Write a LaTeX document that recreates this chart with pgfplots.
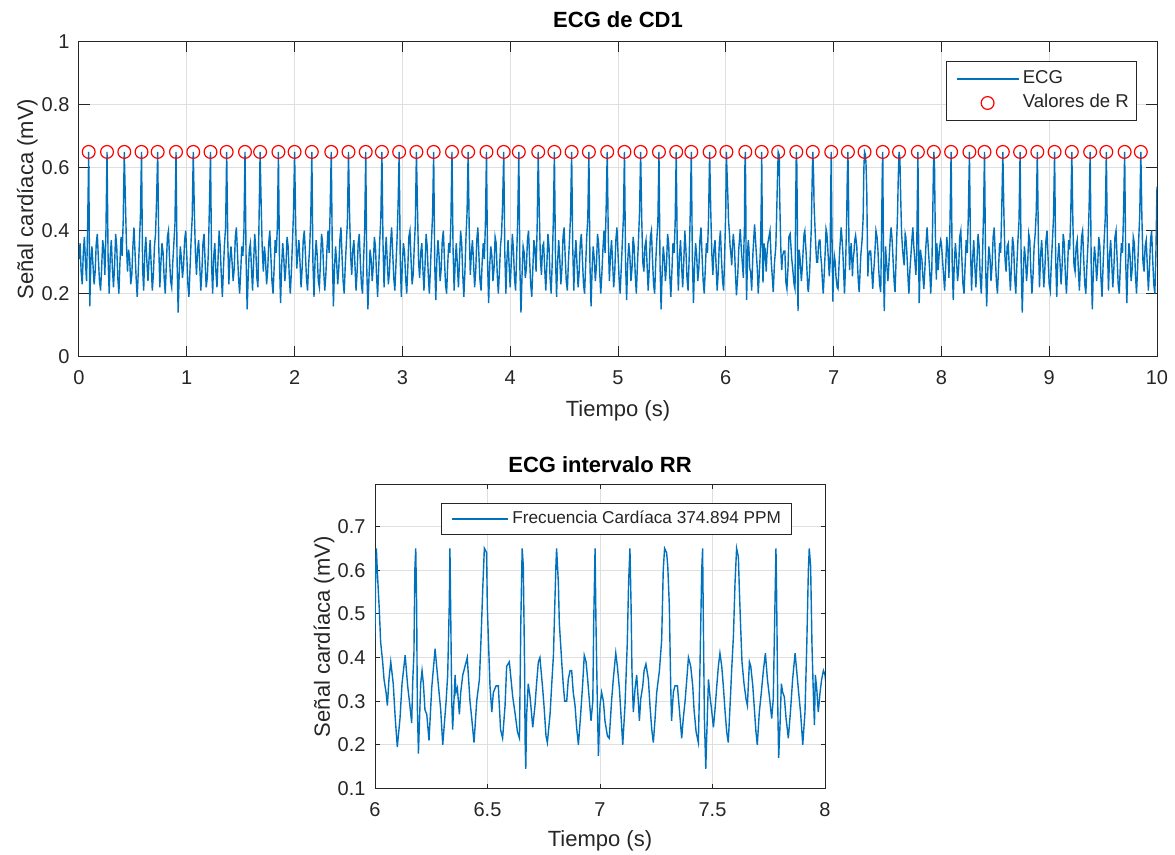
\documentclass[border=0pt]{standalone}
\usepackage{fontspec}
\setmainfont{Liberation Sans}
\usepackage{pgfplots}
\pgfplotsset{compat=1.18}
\usepackage{pgfplotstable}
\definecolor{ecgblue}{RGB}{0,114,189}
\definecolor{axgray}{RGB}{38,38,38}
\definecolor{gridgray}{RGB}{223,223,223}

\pgfplotstableread[row sep=\\]{
t v\\
0.00 0.31\\ 0.01 0.36\\ 0.02 0.27\\ 0.03 0.23\\ 0.04 0.33\\ 0.05 0.38\\ 0.06 0.30\\ 0.07 0.24\\ 0.08 0.41\\ 0.09 0.65\\
0.10 0.16\\ 0.11 0.30\\ 0.12 0.35\\ 0.13 0.29\\ 0.14 0.23\\ 0.15 0.27\\ 0.16 0.36\\ 0.17 0.39\\ 0.18 0.31\\ 0.19 0.24\\
0.20 0.21\\ 0.21 0.28\\ 0.22 0.37\\ 0.23 0.34\\ 0.24 0.26\\ 0.25 0.40\\ 0.26 0.65\\ 0.27 0.31\\ 0.28 0.20\\ 0.29 0.32\\
0.30 0.37\\ 0.31 0.28\\ 0.32 0.22\\ 0.33 0.29\\ 0.34 0.39\\ 0.35 0.35\\ 0.36 0.25\\ 0.37 0.20\\ 0.38 0.30\\ 0.39 0.38\\
0.40 0.32\\ 0.41 0.43\\ 0.42 0.65\\ 0.43 0.50\\ 0.44 0.36\\ 0.45 0.27\\ 0.46 0.34\\ 0.47 0.31\\ 0.48 0.23\\ 0.49 0.26\\
0.50 0.35\\ 0.51 0.41\\ 0.52 0.33\\ 0.53 0.25\\ 0.54 0.19\\ 0.55 0.27\\ 0.56 0.36\\ 0.57 0.45\\ 0.58 0.65\\ 0.59 0.28\\
0.60 0.21\\ 0.61 0.33\\ 0.62 0.38\\ 0.63 0.30\\ 0.64 0.24\\ 0.65 0.31\\ 0.66 0.37\\ 0.67 0.29\\ 0.68 0.21\\ 0.69 0.26\\
0.70 0.35\\ 0.71 0.39\\ 0.72 0.50\\ 0.73 0.65\\ 0.74 0.35\\ 0.75 0.22\\ 0.76 0.30\\ 0.77 0.36\\ 0.78 0.33\\ 0.79 0.25\\
0.80 0.20\\ 0.81 0.29\\ 0.82 0.38\\ 0.83 0.40\\ 0.84 0.31\\ 0.85 0.24\\ 0.86 0.22\\ 0.87 0.30\\ 0.88 0.36\\ 0.89 0.42\\
0.90 0.65\\ 0.91 0.30\\ 0.92 0.14\\ 0.93 0.27\\ 0.94 0.35\\ 0.95 0.31\\ 0.96 0.25\\ 0.97 0.29\\ 0.98 0.37\\ 0.99 0.40\\
1.00 0.32\\ 1.01 0.23\\ 1.02 0.19\\ 1.03 0.28\\ 1.04 0.37\\ 1.05 0.44\\ 1.06 0.65\\ 1.07 0.46\\ 1.08 0.33\\ 1.09 0.26\\
1.10 0.34\\ 1.11 0.37\\ 1.12 0.29\\ 1.13 0.21\\ 1.14 0.27\\ 1.15 0.36\\ 1.16 0.39\\ 1.17 0.30\\ 1.18 0.22\\ 1.19 0.25\\
1.20 0.33\\ 1.21 0.48\\ 1.22 0.65\\ 1.23 0.29\\ 1.24 0.20\\ 1.25 0.32\\ 1.26 0.36\\ 1.27 0.27\\ 1.28 0.22\\ 1.29 0.31\\
1.30 0.40\\ 1.31 0.35\\ 1.32 0.26\\ 1.33 0.19\\ 1.34 0.28\\ 1.35 0.36\\ 1.36 0.41\\ 1.37 0.65\\ 1.38 0.37\\ 1.39 0.23\\
1.40 0.31\\ 1.41 0.35\\ 1.42 0.30\\ 1.43 0.24\\ 1.44 0.28\\ 1.45 0.38\\ 1.46 0.41\\ 1.47 0.33\\ 1.48 0.25\\ 1.49 0.20\\
1.50 0.27\\ 1.51 0.35\\ 1.52 0.32\\ 1.53 0.40\\ 1.54 0.65\\ 1.55 0.31\\ 1.56 0.15\\ 1.57 0.26\\ 1.58 0.34\\ 1.59 0.36\\
1.60 0.28\\ 1.61 0.21\\ 1.62 0.30\\ 1.63 0.39\\ 1.64 0.34\\ 1.65 0.25\\ 1.66 0.22\\ 1.67 0.43\\ 1.68 0.65\\ 1.69 0.48\\
1.70 0.34\\ 1.71 0.27\\ 1.72 0.35\\ 1.73 0.31\\ 1.74 0.23\\ 1.75 0.27\\ 1.76 0.36\\ 1.77 0.40\\ 1.78 0.32\\ 1.79 0.24\\
1.80 0.20\\ 1.81 0.28\\ 1.82 0.37\\ 1.83 0.33\\ 1.84 0.41\\ 1.85 0.65\\ 1.86 0.30\\ 1.87 0.17\\ 1.88 0.29\\ 1.89 0.36\\
1.90 0.31\\ 1.91 0.24\\ 1.92 0.29\\ 1.93 0.38\\ 1.94 0.35\\ 1.95 0.26\\ 1.96 0.20\\ 1.97 0.27\\ 1.98 0.36\\ 1.99 0.46\\
2.00 0.65\\ 2.01 0.42\\ 2.02 0.28\\ 2.03 0.33\\ 2.04 0.37\\ 2.05 0.30\\ 2.06 0.22\\ 2.07 0.28\\ 2.08 0.37\\ 2.09 0.40\\
2.10 0.33\\ 2.11 0.25\\ 2.12 0.21\\ 2.13 0.29\\ 2.14 0.35\\ 2.15 0.44\\ 2.16 0.65\\ 2.17 0.30\\ 2.18 0.19\\ 2.19 0.31\\
2.20 0.37\\ 2.21 0.32\\ 2.22 0.24\\ 2.23 0.22\\ 2.24 0.30\\ 2.25 0.39\\ 2.26 0.36\\ 2.27 0.27\\ 2.28 0.21\\ 2.29 0.26\\
2.30 0.34\\ 2.31 0.40\\ 2.32 0.33\\ 2.33 0.47\\ 2.34 0.65\\ 2.35 0.33\\ 2.36 0.16\\ 2.37 0.28\\ 2.38 0.35\\ 2.39 0.30\\
2.40 0.23\\ 2.41 0.28\\ 2.42 0.37\\ 2.43 0.41\\ 2.44 0.32\\ 2.45 0.24\\ 2.46 0.20\\ 2.47 0.29\\ 2.48 0.36\\ 2.49 0.43\\
2.50 0.65\\ 2.51 0.45\\ 2.52 0.32\\ 2.53 0.26\\ 2.54 0.34\\ 2.55 0.37\\ 2.56 0.29\\ 2.57 0.21\\ 2.58 0.27\\ 2.59 0.36\\
2.60 0.39\\ 2.61 0.30\\ 2.62 0.23\\ 2.63 0.20\\ 2.64 0.31\\ 2.65 0.40\\ 2.66 0.65\\ 2.67 0.27\\ 2.68 0.15\\ 2.69 0.25\\
2.70 0.34\\ 2.71 0.31\\ 2.72 0.24\\ 2.73 0.29\\ 2.74 0.38\\ 2.75 0.35\\ 2.76 0.26\\ 2.77 0.19\\ 2.78 0.28\\ 2.79 0.37\\
2.80 0.44\\ 2.81 0.65\\ 2.82 0.36\\ 2.83 0.22\\ 2.84 0.32\\ 2.85 0.38\\ 2.86 0.30\\ 2.87 0.23\\ 2.88 0.27\\ 2.89 0.36\\
2.90 0.41\\ 2.91 0.33\\ 2.92 0.25\\ 2.93 0.21\\ 2.94 0.29\\ 2.95 0.37\\ 2.96 0.48\\ 2.97 0.65\\ 2.98 0.31\\ 2.99 0.19\\
3.00 0.30\\ 3.01 0.36\\ 3.02 0.33\\ 3.03 0.25\\ 3.04 0.20\\ 3.05 0.28\\ 3.06 0.38\\ 3.07 0.40\\ 3.08 0.31\\ 3.09 0.23\\
3.10 0.26\\ 3.11 0.35\\ 3.12 0.42\\ 3.13 0.65\\ 3.14 0.47\\ 3.15 0.30\\ 3.16 0.25\\ 3.17 0.33\\ 3.18 0.36\\ 3.19 0.28\\
3.20 0.21\\ 3.21 0.29\\ 3.22 0.39\\ 3.23 0.35\\ 3.24 0.26\\ 3.25 0.20\\ 3.26 0.28\\ 3.27 0.37\\ 3.28 0.45\\ 3.29 0.65\\
3.30 0.29\\ 3.31 0.18\\ 3.32 0.31\\ 3.33 0.37\\ 3.34 0.32\\ 3.35 0.24\\ 3.36 0.28\\ 3.37 0.37\\ 3.38 0.40\\ 3.39 0.31\\
3.40 0.23\\ 3.41 0.20\\ 3.42 0.29\\ 3.43 0.36\\ 3.44 0.33\\ 3.45 0.43\\ 3.46 0.65\\ 3.47 0.34\\ 3.48 0.21\\ 3.49 0.30\\
3.50 0.36\\ 3.51 0.29\\ 3.52 0.22\\ 3.53 0.31\\ 3.54 0.40\\ 3.55 0.36\\ 3.56 0.26\\ 3.57 0.19\\ 3.58 0.27\\ 3.59 0.38\\
3.60 0.46\\ 3.61 0.65\\ 3.62 0.40\\ 3.63 0.26\\ 3.64 0.33\\ 3.65 0.37\\ 3.66 0.30\\ 3.67 0.22\\ 3.68 0.27\\ 3.69 0.37\\
3.70 0.41\\ 3.71 0.32\\ 3.72 0.24\\ 3.73 0.21\\ 3.74 0.30\\ 3.75 0.36\\ 3.76 0.31\\ 3.77 0.42\\ 3.78 0.65\\ 3.79 0.30\\
3.80 0.17\\ 3.81 0.29\\ 3.82 0.35\\ 3.83 0.32\\ 3.84 0.24\\ 3.85 0.28\\ 3.86 0.38\\ 3.87 0.36\\ 3.88 0.26\\ 3.89 0.20\\
3.90 0.27\\ 3.91 0.35\\ 3.92 0.39\\ 3.93 0.49\\ 3.94 0.65\\ 3.95 0.33\\ 3.96 0.20\\ 3.97 0.31\\ 3.98 0.37\\ 3.99 0.29\\
4.00 0.22\\ 4.01 0.30\\ 4.02 0.39\\ 4.03 0.34\\ 4.04 0.25\\ 4.05 0.21\\ 4.06 0.32\\ 4.07 0.44\\ 4.08 0.65\\ 4.09 0.28\\
4.10 0.14\\ 4.11 0.26\\ 4.12 0.35\\ 4.13 0.33\\ 4.14 0.25\\ 4.15 0.28\\ 4.16 0.37\\ 4.17 0.40\\ 4.18 0.31\\ 4.19 0.23\\
4.20 0.19\\ 4.21 0.28\\ 4.22 0.37\\ 4.23 0.34\\ 4.24 0.27\\ 4.25 0.41\\ 4.26 0.65\\ 4.27 0.46\\ 4.28 0.31\\ 4.29 0.26\\
4.30 0.35\\ 4.31 0.36\\ 4.32 0.28\\ 4.33 0.21\\ 4.34 0.29\\ 4.35 0.39\\ 4.36 0.35\\ 4.37 0.25\\ 4.38 0.20\\ 4.39 0.30\\
4.40 0.43\\ 4.41 0.65\\ 4.42 0.32\\ 4.43 0.19\\ 4.44 0.30\\ 4.45 0.37\\ 4.46 0.31\\ 4.47 0.23\\ 4.48 0.28\\ 4.49 0.38\\
4.50 0.41\\ 4.51 0.32\\ 4.52 0.24\\ 4.53 0.21\\ 4.54 0.30\\ 4.55 0.37\\ 4.56 0.45\\ 4.57 0.65\\ 4.58 0.35\\ 4.59 0.21\\
4.60 0.32\\ 4.61 0.37\\ 4.62 0.29\\ 4.63 0.22\\ 4.64 0.27\\ 4.65 0.36\\ 4.66 0.39\\ 4.67 0.31\\ 4.68 0.23\\ 4.69 0.20\\
4.70 0.29\\ 4.71 0.38\\ 4.72 0.44\\ 4.73 0.65\\ 4.74 0.29\\ 4.75 0.16\\ 4.76 0.28\\ 4.77 0.35\\ 4.78 0.31\\ 4.79 0.24\\
4.80 0.29\\ 4.81 0.39\\ 4.82 0.36\\ 4.83 0.27\\ 4.84 0.20\\ 4.85 0.26\\ 4.86 0.34\\ 4.87 0.40\\ 4.88 0.33\\ 4.89 0.47\\
4.90 0.65\\ 4.91 0.38\\ 4.92 0.24\\ 4.93 0.32\\ 4.94 0.37\\ 4.95 0.30\\ 4.96 0.22\\ 4.97 0.27\\ 4.98 0.37\\ 4.99 0.41\\
5.00 0.33\\ 5.01 0.25\\ 5.02 0.20\\ 5.03 0.28\\ 5.04 0.36\\ 5.05 0.44\\ 5.06 0.65\\ 5.07 0.30\\ 5.08 0.18\\ 5.09 0.30\\
5.10 0.36\\ 5.11 0.32\\ 5.12 0.24\\ 5.13 0.28\\ 5.14 0.38\\ 5.15 0.35\\ 5.16 0.26\\ 5.17 0.20\\ 5.18 0.29\\ 5.19 0.37\\
5.20 0.46\\ 5.21 0.65\\ 5.22 0.44\\ 5.23 0.30\\ 5.24 0.27\\ 5.25 0.35\\ 5.26 0.37\\ 5.27 0.29\\ 5.28 0.21\\ 5.29 0.28\\
5.30 0.38\\ 5.31 0.40\\ 5.32 0.31\\ 5.33 0.23\\ 5.34 0.20\\ 5.35 0.30\\ 5.36 0.37\\ 5.37 0.43\\ 5.38 0.65\\ 5.39 0.29\\
5.40 0.15\\ 5.41 0.27\\ 5.42 0.35\\ 5.43 0.31\\ 5.44 0.24\\ 5.45 0.29\\ 5.46 0.39\\ 5.47 0.36\\ 5.48 0.26\\ 5.49 0.19\\
5.50 0.27\\ 5.51 0.36\\ 5.52 0.33\\ 5.53 0.42\\ 5.54 0.65\\ 5.55 0.33\\ 5.56 0.21\\ 5.57 0.32\\ 5.58 0.37\\ 5.59 0.29\\
5.60 0.22\\ 5.61 0.30\\ 5.62 0.40\\ 5.63 0.34\\ 5.64 0.25\\ 5.65 0.21\\ 5.66 0.31\\ 5.67 0.45\\ 5.68 0.65\\ 5.69 0.31\\
5.70 0.17\\ 5.71 0.29\\ 5.72 0.36\\ 5.73 0.32\\ 5.74 0.24\\ 5.75 0.28\\ 5.76 0.37\\ 5.77 0.41\\ 5.78 0.32\\ 5.79 0.24\\
5.80 0.20\\ 5.81 0.28\\ 5.82 0.36\\ 5.83 0.33\\ 5.84 0.44\\ 5.85 0.65\\ 5.86 0.47\\ 5.87 0.33\\ 5.88 0.26\\ 5.89 0.34\\
5.90 0.37\\ 5.91 0.29\\ 5.92 0.21\\ 5.93 0.27\\ 5.94 0.36\\ 5.95 0.40\\ 5.96 0.31\\ 5.97 0.24\\ 5.98 0.21\\ 5.99 0.33\\
6.000 0.47\\ 6.003 0.60\\ 6.006 0.65\\ 6.010 0.60\\ 6.019 0.51\\ 6.025 0.435\\ 6.034 0.39\\ 6.040 0.35\\ 6.049 0.32\\ 6.055 0.29\\
6.062 0.35\\ 6.070 0.39\\ 6.081 0.34\\ 6.090 0.26\\ 6.099 0.195\\ 6.111 0.26\\ 6.120 0.34\\ 6.134 0.405\\ 6.145 0.335\\ 6.155 0.29\\
6.163 0.25\\ 6.168 0.35\\ 6.173 0.41\\ 6.177 0.60\\ 6.181 0.65\\ 6.185 0.52\\ 6.188 0.29\\ 6.193 0.18\\ 6.203 0.34\\ 6.209 0.37\\
6.215 0.34\\ 6.222 0.28\\ 6.230 0.27\\ 6.240 0.21\\ 6.252 0.33\\ 6.267 0.42\\ 6.281 0.34\\ 6.292 0.28\\ 6.301 0.20\\ 6.316 0.30\\
6.323 0.36\\ 6.330 0.52\\ 6.333 0.65\\ 6.336 0.52\\ 6.341 0.30\\ 6.345 0.235\\ 6.356 0.36\\ 6.360 0.32\\ 6.366 0.33\\ 6.375 0.27\\
6.381 0.32\\ 6.390 0.36\\ 6.400 0.38\\ 6.410 0.40\\ 6.422 0.30\\ 6.430 0.26\\ 6.440 0.205\\ 6.452 0.30\\ 6.464 0.35\\ 6.471 0.44\\
6.479 0.56\\ 6.486 0.65\\ 6.496 0.64\\ 6.499 0.52\\ 6.504 0.44\\ 6.511 0.335\\ 6.519 0.275\\ 6.526 0.32\\ 6.538 0.335\\ 6.548 0.335\\
6.558 0.235\\ 6.567 0.215\\ 6.578 0.29\\ 6.585 0.38\\ 6.597 0.39\\ 6.612 0.31\\ 6.623 0.27\\ 6.633 0.23\\ 6.642 0.215\\ 6.648 0.48\\
6.654 0.65\\ 6.659 0.61\\ 6.662 0.49\\ 6.665 0.37\\ 6.667 0.21\\ 6.670 0.145\\ 6.674 0.27\\ 6.681 0.34\\ 6.689 0.31\\ 6.696 0.27\\
6.701 0.24\\ 6.711 0.29\\ 6.718 0.34\\ 6.726 0.39\\ 6.733 0.40\\ 6.738 0.37\\ 6.745 0.33\\ 6.751 0.29\\ 6.760 0.22\\ 6.766 0.205\\
6.778 0.27\\ 6.785 0.335\\ 6.793 0.405\\ 6.799 0.52\\ 6.804 0.61\\ 6.807 0.65\\ 6.815 0.57\\ 6.819 0.48\\ 6.825 0.43\\ 6.831 0.38\\
6.837 0.335\\ 6.843 0.30\\ 6.852 0.30\\ 6.859 0.35\\ 6.867 0.37\\ 6.874 0.37\\ 6.881 0.32\\ 6.889 0.29\\ 6.896 0.24\\ 6.904 0.20\\
6.914 0.27\\ 6.923 0.34\\ 6.930 0.405\\ 6.938 0.39\\ 6.945 0.35\\ 6.953 0.30\\ 6.960 0.255\\ 6.968 0.30\\ 6.972 0.48\\ 6.978 0.65\\
6.982 0.48\\ 6.988 0.30\\ 6.993 0.175\\ 7.000 0.29\\ 7.007 0.32\\ 7.015 0.30\\ 7.022 0.255\\ 7.033 0.22\\ 7.041 0.215\\ 7.052 0.305\\
7.059 0.35\\ 7.070 0.41\\ 7.077 0.38\\ 7.086 0.33\\ 7.093 0.27\\ 7.101 0.20\\ 7.111 0.29\\ 7.121 0.43\\ 7.127 0.57\\ 7.133 0.65\\
7.138 0.52\\ 7.142 0.37\\ 7.148 0.275\\ 7.156 0.33\\ 7.163 0.36\\ 7.169 0.31\\ 7.175 0.255\\ 7.181 0.305\\ 7.190 0.335\\ 7.196 0.37\\
7.204 0.385\\ 7.215 0.35\\ 7.222 0.29\\ 7.230 0.235\\ 7.237 0.205\\ 7.244 0.255\\ 7.252 0.32\\ 7.264 0.37\\ 7.274 0.44\\ 7.281 0.60\\
7.287 0.65\\ 7.296 0.64\\ 7.301 0.61\\ 7.308 0.52\\ 7.314 0.34\\ 7.318 0.255\\ 7.326 0.32\\ 7.333 0.335\\ 7.344 0.335\\ 7.348 0.31\\
7.356 0.26\\ 7.363 0.215\\ 7.370 0.26\\ 7.378 0.30\\ 7.385 0.345\\ 7.393 0.40\\ 7.403 0.38\\ 7.412 0.335\\ 7.418 0.28\\ 7.427 0.23\\
7.437 0.205\\ 7.444 0.37\\ 7.452 0.60\\ 7.456 0.65\\ 7.459 0.49\\ 7.464 0.26\\ 7.470 0.145\\ 7.474 0.215\\ 7.482 0.35\\ 7.489 0.31\\
7.496 0.28\\ 7.504 0.24\\ 7.511 0.28\\ 7.519 0.335\\ 7.526 0.38\\ 7.533 0.41\\ 7.541 0.38\\ 7.548 0.335\\ 7.556 0.275\\ 7.563 0.23\\
7.570 0.205\\ 7.578 0.29\\ 7.585 0.37\\ 7.593 0.45\\ 7.600 0.57\\ 7.607 0.65\\ 7.615 0.63\\ 7.619 0.56\\ 7.625 0.47\\ 7.631 0.39\\
7.640 0.34\\ 7.649 0.305\\ 7.655 0.29\\ 7.664 0.39\\ 7.670 0.38\\ 7.679 0.335\\ 7.685 0.29\\ 7.693 0.23\\ 7.699 0.20\\ 7.708 0.275\\
7.717 0.32\\ 7.726 0.37\\ 7.735 0.41\\ 7.744 0.35\\ 7.753 0.31\\ 7.763 0.26\\ 7.770 0.305\\ 7.778 0.535\\ 7.782 0.65\\ 7.785 0.54\\
7.790 0.29\\ 7.794 0.17\\ 7.800 0.245\\ 7.806 0.34\\ 7.812 0.32\\ 7.819 0.31\\ 7.827 0.26\\ 7.837 0.215\\ 7.847 0.28\\ 7.856 0.35\\
7.867 0.41\\ 7.874 0.37\\ 7.881 0.33\\ 7.892 0.27\\ 7.901 0.20\\ 7.911 0.275\\ 7.919 0.43\\ 7.926 0.60\\ 7.930 0.65\\ 7.936 0.61\\
7.942 0.43\\ 7.948 0.32\\ 7.953 0.245\\ 7.957 0.36\\ 7.963 0.33\\ 7.970 0.275\\ 7.978 0.32\\ 7.985 0.35\\ 7.993 0.37\\ 8.000 0.36\\
8.01 0.31\\ 8.02 0.26\\ 8.03 0.21\\ 8.04 0.29\\ 8.05 0.38\\ 8.06 0.34\\ 8.07 0.25\\ 8.08 0.43\\ 8.09 0.65\\
8.10 0.30\\ 8.11 0.18\\ 8.12 0.30\\ 8.13 0.36\\ 8.14 0.31\\ 8.15 0.24\\ 8.16 0.28\\ 8.17 0.38\\ 8.18 0.40\\ 8.19 0.31\\
8.20 0.23\\ 8.21 0.20\\ 8.22 0.29\\ 8.23 0.37\\ 8.24 0.33\\ 8.25 0.45\\ 8.26 0.65\\ 8.27 0.34\\ 8.28 0.21\\ 8.29 0.31\\
8.30 0.37\\ 8.31 0.29\\ 8.32 0.22\\ 8.33 0.30\\ 8.34 0.39\\ 8.35 0.35\\ 8.36 0.25\\ 8.37 0.20\\ 8.38 0.30\\ 8.39 0.44\\
8.40 0.65\\ 8.41 0.29\\ 8.42 0.16\\ 8.43 0.27\\ 8.44 0.35\\ 8.45 0.32\\ 8.46 0.24\\ 8.47 0.29\\ 8.48 0.38\\ 8.49 0.41\\
8.50 0.32\\ 8.51 0.24\\ 8.52 0.20\\ 8.53 0.28\\ 8.54 0.36\\ 8.55 0.33\\ 8.56 0.47\\ 8.57 0.65\\ 8.58 0.45\\ 8.59 0.31\\
8.60 0.27\\ 8.61 0.35\\ 8.62 0.36\\ 8.63 0.28\\ 8.64 0.21\\ 8.65 0.29\\ 8.66 0.38\\ 8.67 0.35\\ 8.68 0.25\\ 8.69 0.20\\
8.70 0.29\\ 8.71 0.37\\ 8.72 0.43\\ 8.73 0.65\\ 8.74 0.30\\ 8.75 0.14\\ 8.76 0.27\\ 8.77 0.35\\ 8.78 0.31\\ 8.79 0.24\\
8.80 0.29\\ 8.81 0.39\\ 8.82 0.37\\ 8.83 0.27\\ 8.84 0.20\\ 8.85 0.26\\ 8.86 0.35\\ 8.87 0.39\\ 8.88 0.46\\ 8.89 0.65\\
8.90 0.36\\ 8.91 0.22\\ 8.92 0.32\\ 8.93 0.37\\ 8.94 0.30\\ 8.95 0.22\\ 8.96 0.28\\ 8.97 0.37\\ 8.98 0.40\\ 8.99 0.31\\
9.00 0.23\\ 9.01 0.21\\ 9.02 0.30\\ 9.03 0.37\\ 9.04 0.44\\ 9.05 0.65\\ 9.06 0.31\\ 9.07 0.19\\ 9.08 0.31\\ 9.09 0.36\\
9.10 0.30\\ 9.11 0.23\\ 9.12 0.29\\ 9.13 0.39\\ 9.14 0.36\\ 9.15 0.26\\ 9.16 0.20\\ 9.17 0.28\\ 9.18 0.37\\ 9.19 0.34\\
9.20 0.45\\ 9.21 0.65\\ 9.22 0.42\\ 9.23 0.29\\ 9.24 0.27\\ 9.25 0.35\\ 9.26 0.37\\ 9.27 0.28\\ 9.28 0.21\\ 9.29 0.29\\
9.30 0.38\\ 9.31 0.40\\ 9.32 0.31\\ 9.33 0.23\\ 9.34 0.20\\ 9.35 0.29\\ 9.36 0.36\\ 9.37 0.47\\ 9.38 0.65\\ 9.39 0.28\\
9.40 0.15\\ 9.41 0.28\\ 9.42 0.35\\ 9.43 0.31\\ 9.44 0.24\\ 9.45 0.29\\ 9.46 0.38\\ 9.47 0.35\\ 9.48 0.25\\ 9.49 0.19\\
9.50 0.29\\ 9.51 0.37\\ 9.52 0.44\\ 9.53 0.65\\ 9.54 0.35\\ 9.55 0.21\\ 9.56 0.32\\ 9.57 0.37\\ 9.58 0.30\\ 9.59 0.22\\
9.60 0.28\\ 9.61 0.38\\ 9.62 0.40\\ 9.63 0.31\\ 9.64 0.23\\ 9.65 0.20\\ 9.66 0.29\\ 9.67 0.36\\ 9.68 0.33\\ 9.69 0.46\\
9.70 0.65\\ 9.71 0.30\\ 9.72 0.17\\ 9.73 0.29\\ 9.74 0.36\\ 9.75 0.32\\ 9.76 0.24\\ 9.77 0.28\\ 9.78 0.38\\ 9.79 0.36\\
9.80 0.26\\ 9.81 0.20\\ 9.82 0.28\\ 9.83 0.37\\ 9.84 0.45\\ 9.85 0.65\\ 9.86 0.44\\ 9.87 0.30\\ 9.88 0.27\\ 9.89 0.35\\
9.90 0.37\\ 9.91 0.29\\ 9.92 0.21\\ 9.93 0.28\\ 9.94 0.37\\ 9.95 0.40\\ 9.96 0.31\\ 9.97 0.23\\ 9.98 0.20\\ 9.99 0.33\\
10.00 0.54\\
}\ecg

\pgfplotstableread[row sep=\\]{
t v\\
0.09 0.65\\ 0.26 0.65\\ 0.42 0.65\\ 0.58 0.65\\ 0.73 0.65\\ 0.90 0.65\\ 1.06 0.65\\ 1.22 0.65\\ 1.37 0.65\\ 1.54 0.65\\
1.68 0.65\\ 1.85 0.65\\ 2.00 0.65\\ 2.16 0.65\\ 2.34 0.65\\ 2.50 0.65\\ 2.66 0.65\\ 2.81 0.65\\ 2.97 0.65\\ 3.13 0.65\\
3.29 0.65\\ 3.46 0.65\\ 3.61 0.65\\ 3.78 0.65\\ 3.94 0.65\\ 4.08 0.65\\ 4.26 0.65\\ 4.41 0.65\\ 4.57 0.65\\ 4.73 0.65\\
4.90 0.65\\ 5.06 0.65\\ 5.21 0.65\\ 5.38 0.65\\ 5.54 0.65\\ 5.68 0.65\\ 5.85 0.65\\ 6.006 0.65\\ 6.181 0.65\\ 6.333 0.65\\
6.486 0.65\\ 6.654 0.65\\ 6.807 0.65\\ 6.978 0.65\\ 7.133 0.65\\ 7.287 0.65\\ 7.456 0.65\\ 7.607 0.65\\ 7.782 0.65\\ 7.930 0.65\\
8.09 0.65\\ 8.26 0.65\\ 8.40 0.65\\ 8.57 0.65\\ 8.73 0.65\\ 8.89 0.65\\ 9.05 0.65\\ 9.21 0.65\\ 9.38 0.65\\ 9.53 0.65\\
9.70 0.65\\ 9.85 0.65\\
}\rpeaks

\pgfplotsset{
  matlab/.style={
    scale only axis,
    axis line style={axgray, line width=0.5pt},
    every tick/.style={axgray, line width=0.5pt},
    tick align=inside,
    grid=major,
    major grid style={gridgray, line width=0.5pt},
    ticklabel style={font=\fontsize{10}{12}\selectfont, text=axgray},
    /pgf/number format/assume math mode=true,
    xticklabel style={yshift=-3.5pt},
    yticklabel style={xshift=-1.2pt},
    label style={font=\fontsize{11}{13}\selectfont, text=axgray},
    every axis title shift=0pt,
    title style={font=\bfseries\fontsize{11}{13}\selectfont, anchor=center},
    xlabel style={anchor=center},
    ylabel style={anchor=center},
    legend cell align=left,
  },
  ecgleg top/.style={legend image code/.code={\path[draw=none] (0pt,0pt) -- (-3pt,0pt); \draw[##1] (0pt,0pt) -- (31pt,0pt);}},
  ecgleg bot/.style={legend image code/.code={\path[draw=none] (0pt,0pt) -- (-1.5pt,0pt); \draw[##1] (0pt,0pt) -- (28.3pt,0pt);}},
  rleg/.style={legend image code/.code={\path[draw=none] (0pt,0pt) -- (-3pt,0pt); \draw[mark repeat=2, mark phase=2, ##1] plot coordinates {(0pt,0pt) (15.5pt,0pt) (31pt,0pt)};}},
}

\begin{document}
\begin{tikzpicture}
\useasboundingbox (0,0) rectangle (587.5pt,427.5pt);

\begin{axis}[matlab,
  at={(39.5pt,249.15pt)}, anchor=south west,
  width=539pt, height=157.5pt,
  xmin=0, xmax=10, ymin=0, ymax=1,
  xtick={0,1,2,3,4,5,6,7,8,9,10},
  ytick={0,0.2,0.4,0.6,0.8,1},
  major tick length=5.4pt,
  title={ECG de CD1},
  title style={at={(axis description cs:0.5,1.0689)}},
  xlabel={Tiempo (s)},
  xlabel style={at={(axis description cs:0.5,-0.172)}},
  ylabel={Señal cardíaca (mV)},
  ylabel style={at={(axis description cs:-0.048,0.5)}},
  legend style={at={(0.9814,0.9387)}, anchor=north east,
    draw=axgray, line width=0.5pt, fill=white,
    font=\fontsize{9.3}{10}\selectfont, text=axgray,
    inner xsep=2pt, inner ysep=2.75pt, row sep=0pt,
    nodes={inner xsep=1.75pt, inner ysep=1pt, text height=0.72em, text depth=0.28em}},
]
\addplot[ecgblue, line width=0.7pt, ecgleg top]
  table[x=t, y=v] {\ecg};
\addlegendentry{ECG}
\addplot[only marks, mark=o, red, mark size=3.2pt, line width=0.6pt, rleg]
  table[x=t, y=v] {\rpeaks};
\addlegendentry{Valores de R}
\end{axis}

\begin{axis}[matlab,
  at={(187.5pt,33.25pt)}, anchor=south west,
  width=225pt, height=151.75pt,
  xmin=6, xmax=8, ymin=0.1, ymax=0.795,
  xtick={6,6.5,7,7.5,8},
  ytick={0.1,0.2,0.3,0.4,0.5,0.6,0.7},
  major tick length=2.25pt,
  title={ECG intervalo RR},
  title style={at={(axis description cs:0.5,1.0659)}},
  xlabel={Tiempo (s)},
  xlabel style={at={(axis description cs:0.5,-0.173)}},
  ylabel={Señal cardíaca (mV)},
  ylabel style={at={(axis description cs:-0.113,0.5)}},
  legend style={at={(0.9267,0.9407)}, anchor=north east,
    draw=axgray, line width=0.5pt, fill=white,
    font=\fontsize{8.6}{10}\selectfont, text=axgray,
    inner xsep=3.5pt, inner ysep=1pt,
    nodes={inner sep=1.75pt, text height=0.72em, text depth=0.28em}},
]
\addplot[ecgblue, line width=0.7pt, ecgleg bot]
  table[x=t, y=v] {\ecg};
\addlegendentry{Frecuencia Cardíaca 374.894 PPM}
\end{axis}
\end{tikzpicture}
\end{document}
